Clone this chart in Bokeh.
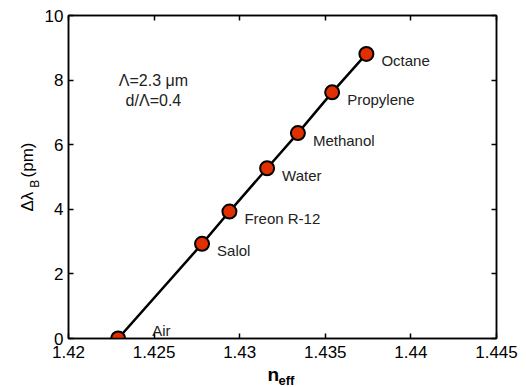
from bokeh.plotting import figure
from bokeh.models import Range1d, LinearAxis, FixedTicker, Label, ColumnDataSource
from bokeh.core.properties import value
from bokeh.embed import file_html
from bokeh.resources import INLINE
import math

# Data
liquids = ["Air", "Salol", "Freon R-12", "Water", "Methanol", "Propylene", "Octane"]
n_eff = [1.4229, 1.4278, 1.4294, 1.4316, 1.4334, 1.4354, 1.4374]
d_lambda = [0.0, 2.93, 3.93, 5.27, 6.36, 7.62, 8.81]
x_ticks = [1.42, 1.425, 1.43, 1.435, 1.44, 1.445]
y_ticks = [0, 2, 4, 6, 8, 10]

FONT = "Liberation Sans"
NB = "\u00a0"

p = figure(width=526, height=387, x_range=Range1d(1.42, 1.445), y_range=Range1d(0, 10),
           output_backend="svg", toolbar_location=None,
           min_border_left=68, min_border_right=30, min_border_top=15, min_border_bottom=49)
p.xgrid.visible = False
p.ygrid.visible = False
p.outline_line_color = "black"
p.outline_line_width = 1.5
p.background_fill_color = "white"
p.border_fill_color = "white"

for ax in (p.xaxis[0], p.yaxis[0]):
    ax.major_tick_in = 5
    ax.major_tick_out = 0
    ax.minor_tick_in = 0
    ax.minor_tick_out = 0
    ax.axis_line_width = 1.5
    ax.major_tick_line_width = 1.5
    ax.major_label_text_font = FONT
    ax.major_label_text_font_size = "17px"
    ax.major_label_text_color = "black"
p.xaxis[0].ticker = FixedTicker(ticks=x_ticks)
p.yaxis[0].ticker = FixedTicker(ticks=y_ticks)
p.xaxis[0].major_label_standoff = 7
p.yaxis[0].major_label_standoff = 5
p.xaxis[0].major_label_overrides = {t: ("%g" % t) for t in x_ticks}

# y axis label: Δλ (gap for subscript) (pm)
p.yaxis[0].axis_label = "\u0394\u03bb" + NB * 3 + "(pm)"
p.yaxis[0].axis_label_text_font = FONT
p.yaxis[0].axis_label_text_font_size = "17px"
p.yaxis[0].axis_label_text_font_style = "normal"
p.yaxis[0].axis_label_text_color = "black"
p.yaxis[0].axis_label_standoff = 5

top = LinearAxis(ticker=FixedTicker(ticks=x_ticks), major_label_overrides={t: "" for t in x_ticks},
                 major_tick_in=5, major_tick_out=0, minor_tick_in=0, minor_tick_out=0,
                 axis_line_width=1.5, major_tick_line_width=1.5, major_label_standoff=0)
right = LinearAxis(ticker=FixedTicker(ticks=y_ticks), major_label_overrides={t: "" for t in y_ticks},
                   major_tick_in=5, major_tick_out=0, minor_tick_in=0, minor_tick_out=0,
                   axis_line_width=1.5, major_tick_line_width=1.5, major_label_standoff=0)
p.add_layout(top, "above")
p.add_layout(right, "right")

src = ColumnDataSource(dict(x=n_eff, y=d_lambda, name=liquids))
p.line("x", "y", source=src, line_color="black", line_width=2.5)
p.scatter("x", "y", source=src, size=14, fill_color="#e03000", line_color="black", line_width=2)

# point labels
p.text(x=n_eff[1:], y=d_lambda[1:], text=liquids[1:], x_offset=15, y_offset=7,
       text_font=value(FONT), text_font_size="15px", text_color="#222222",
       text_baseline="middle", text_align="left")
p.text(x=n_eff[:1], y=d_lambda[:1], text=liquids[:1], x_offset=34, y_offset=-8,
       text_font=value(FONT), text_font_size="15px", text_color="#222222",
       text_baseline="alphabetic", text_align="left")

# annotation
p.add_layout(Label(x=1.42496, y=7.99, text="\u039b=2.3 \u03bcm", text_font=FONT, text_font_size="16px",
                   text_align="center", text_baseline="middle", text_color="#222222"))
p.add_layout(Label(x=1.42496, y=7.37, text="d/\u039b=0.4", text_font=FONT, text_font_size="16px",
                   text_align="center", text_baseline="middle", text_color="#222222"))

# x axis label n_eff (side panels so that it is not clipped by the frame)
p.add_layout(Label(x=1.43162, y=-1.11, text="n", text_font=FONT, text_color="black",
                   text_font_size="19px", text_font_style="bold",
                   text_baseline="alphabetic", text_align="left"), "below")
p.add_layout(Label(x=1.43227, y=-1.29, text="eff", text_font=FONT, text_color="black",
                   text_font_size="13px", text_font_style="bold",
                   text_baseline="alphabetic", text_align="left"), "right")

# subscript B of the y axis label
p.add_layout(Label(x=1.41807, y=4.67, text="B", text_font=FONT, text_color="black",
                   text_font_size="12px", angle=math.pi / 2,
                   text_baseline="alphabetic", text_align="left"), "left")

open("out.html", "w").write(file_html(p, INLINE))
